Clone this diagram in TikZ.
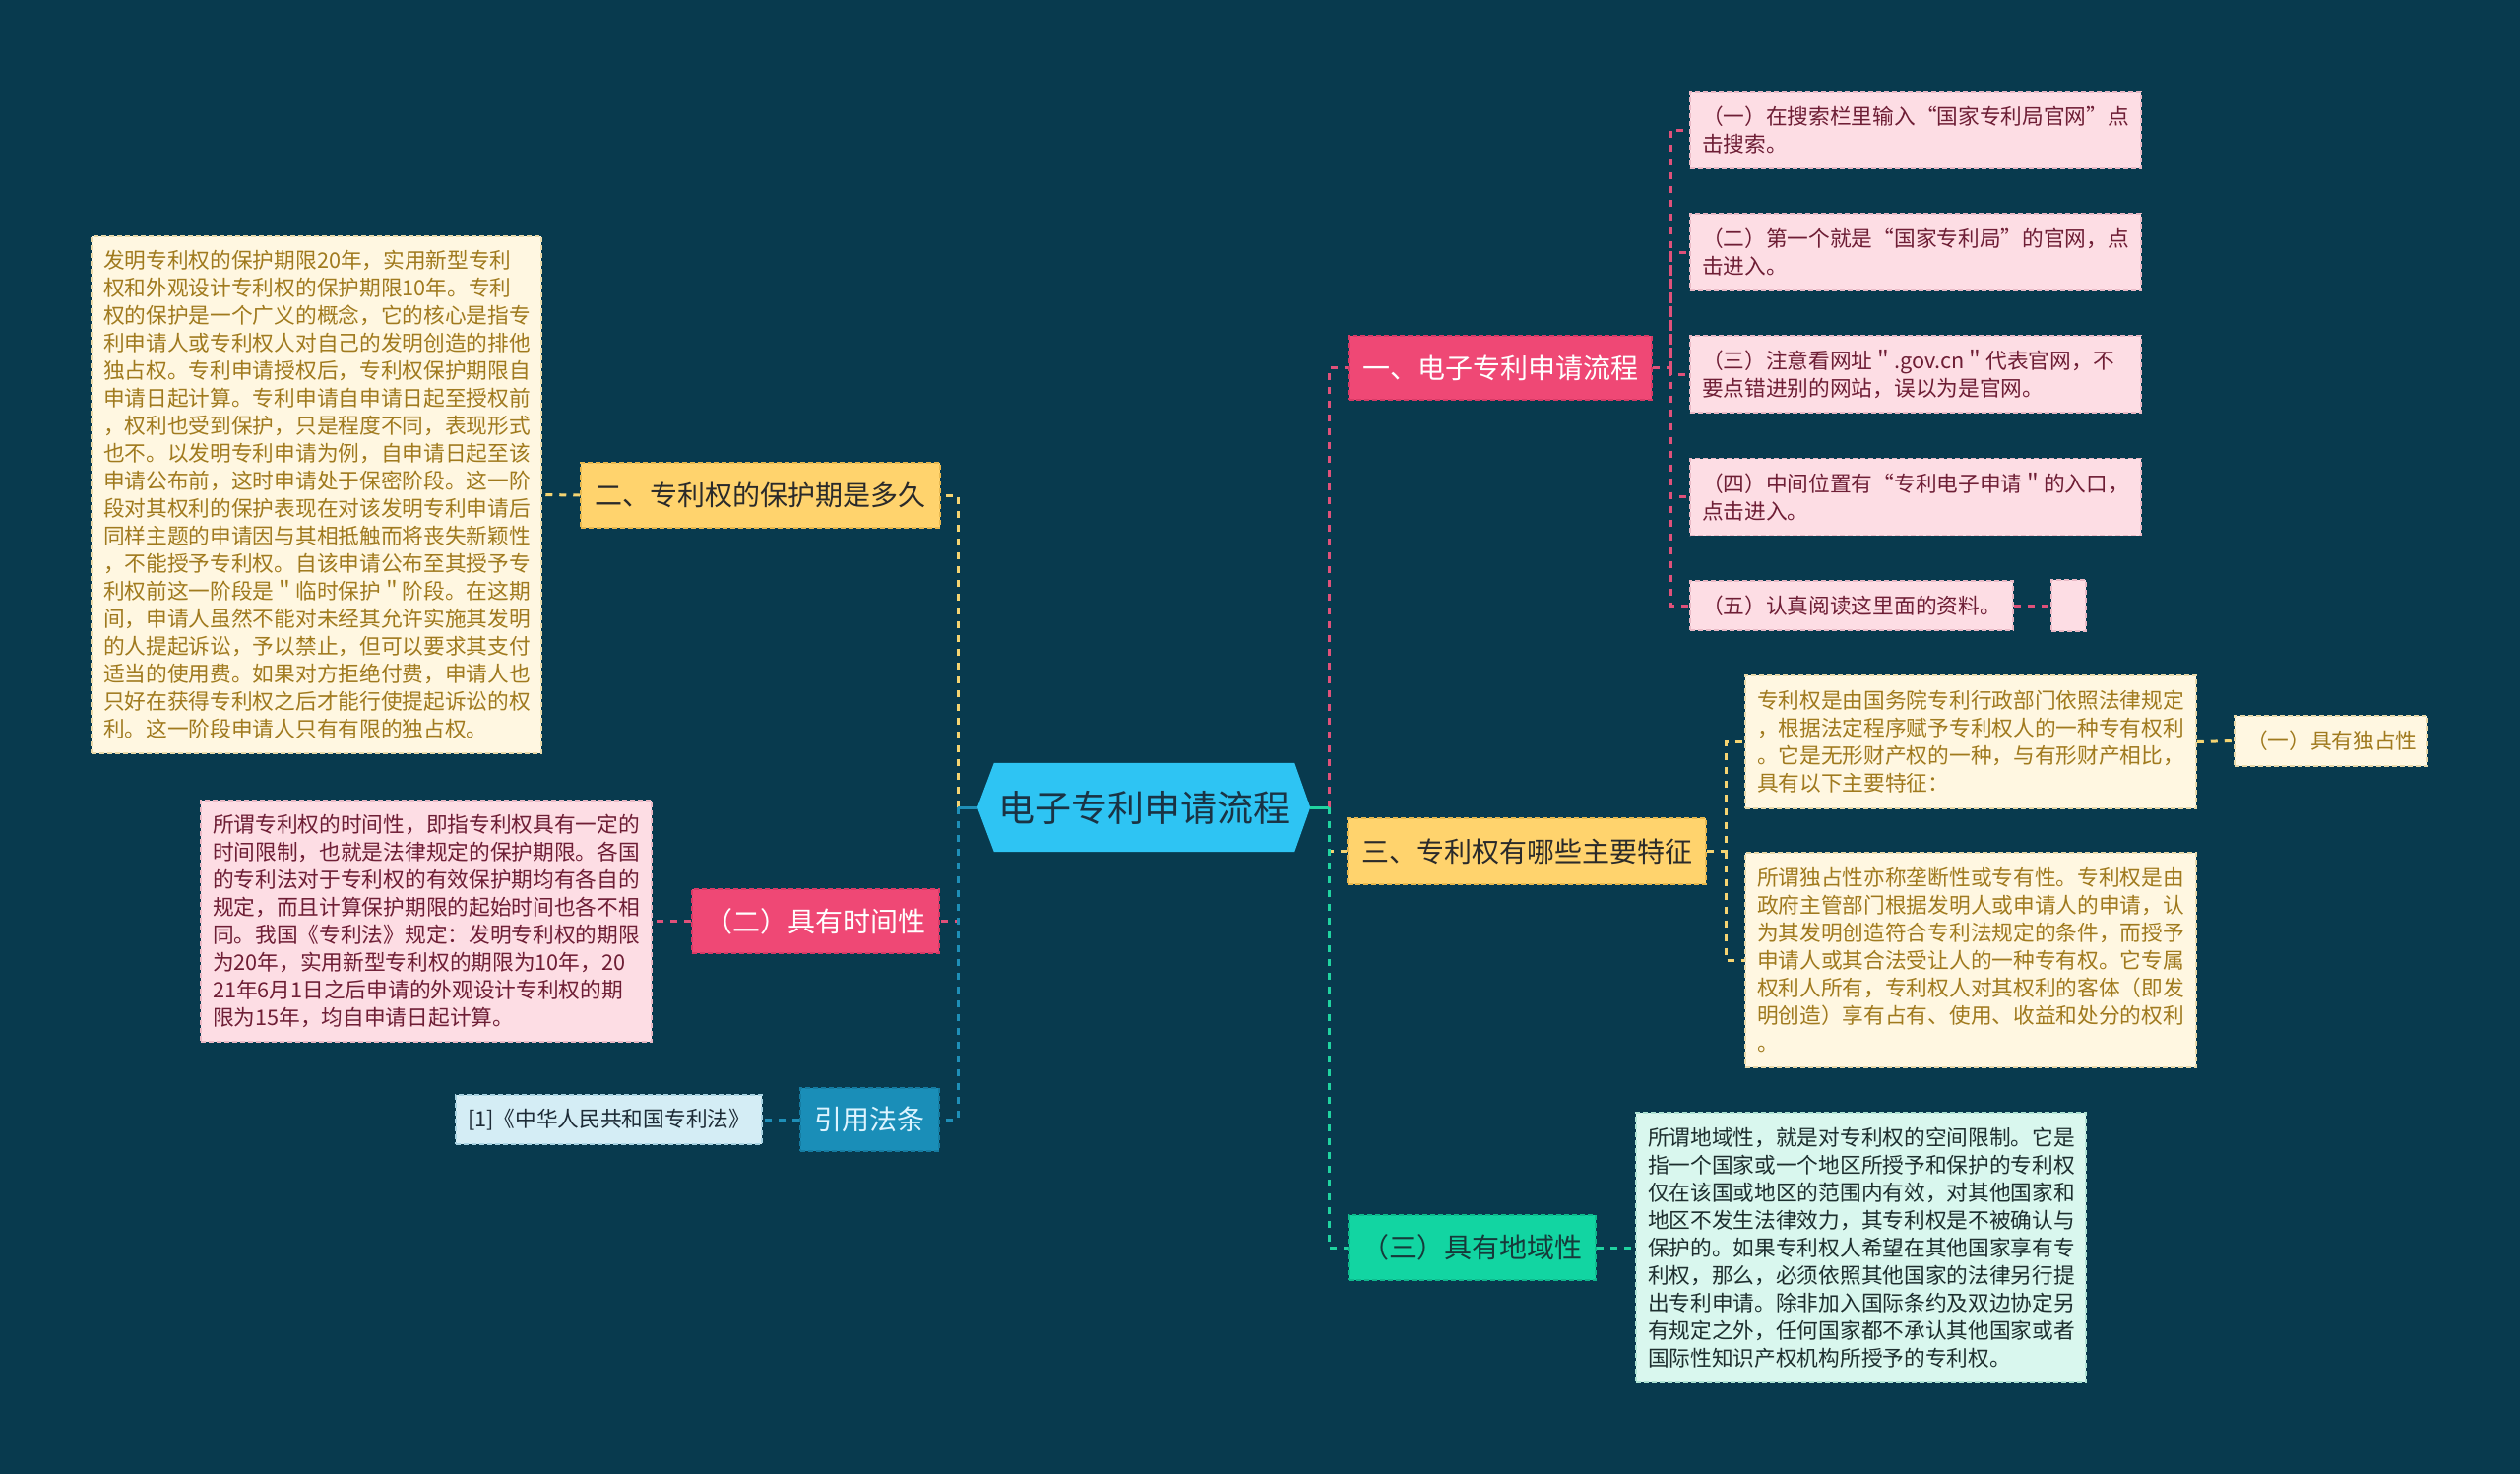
\documentclass[tikz,border=0pt]{standalone}
\usepackage{fontspec}
\setmainfont{Noto Sans CJK SC}
\usetikzlibrary{backgrounds}
\definecolor{bgc}{HTML}{083A4E}
\definecolor{rootfill}{HTML}{2EC4F3}
\definecolor{roottxt}{HTML}{1A3344}
\definecolor{pinkfill}{HTML}{EF4875}
\definecolor{pinkdraw}{HTML}{D93A66}
\definecolor{yelfill}{HTML}{FFD36D}
\definecolor{yeldraw}{HTML}{E8B84E}
\definecolor{bluefill}{HTML}{1A8EB8}
\definecolor{bluedraw}{HTML}{157CA2}
\definecolor{bluetxt}{HTML}{DDF4FF}
\definecolor{grnfill}{HTML}{12D5A2}
\definecolor{grndraw}{HTML}{0EBB8D}
\definecolor{grntxt}{HTML}{163A3A}
\definecolor{darktxt}{HTML}{2A2A2A}
\definecolor{creamfill}{HTML}{FFF7E1}
\definecolor{creamdraw}{HTML}{E9D9A9}
\definecolor{creamtxt}{HTML}{A07A1E}
\definecolor{lpinkfill}{HTML}{FDDDE4}
\definecolor{lpinkdraw}{HTML}{EAB9C5}
\definecolor{lpinktxt}{HTML}{6E1E35}
\definecolor{mintfill}{HTML}{D9F7EE}
\definecolor{mintdraw}{HTML}{AEE3D3}
\definecolor{minttxt}{HTML}{1D2E2E}
\definecolor{lbluefill}{HTML}{D4EDF5}
\definecolor{lbluedraw}{HTML}{A9D3E2}
\definecolor{lbluetxt}{HTML}{1D2B36}
\definecolor{cpink}{HTML}{E0517A}
\definecolor{cyellow}{HTML}{F5D472}
\definecolor{cblue}{HTML}{1E8FB8}
\definecolor{cgreen}{HTML}{20D3A0}
\tikzset{
  conn/.style={line width=3pt, dash pattern=on 7pt off 7pt},
  stub/.style={line width=3pt},
  branchbox/.style={inner sep=0pt, line width=1.5pt, dash pattern=on 5pt off 3pt,
    font=\fontsize{28}{30}\selectfont},
  leafbox/.style={inner xsep=12pt, inner ysep=0pt, line width=1.5pt, dash pattern=on 5pt off 3pt,
    align=left, font=\fontsize{21.7}{28}\selectfont},
  pinkbranch/.style={branchbox, fill=pinkfill, draw=pinkdraw, text=white},
  yelbranch/.style={branchbox, fill=yelfill, draw=yeldraw, text=darktxt},
  bluebranch/.style={branchbox, fill=bluefill, draw=bluedraw, text=bluetxt},
  grnbranch/.style={branchbox, fill=grnfill, draw=grndraw, text=grntxt},
  creamleaf/.style={leafbox, fill=creamfill, draw=creamdraw, text=creamtxt},
  pinkleaf/.style={leafbox, fill=lpinkfill, draw=lpinkdraw, text=lpinktxt},
  mintleaf/.style={leafbox, fill=mintfill, draw=mintdraw, text=minttxt},
  blueleaf/.style={leafbox, fill=lbluefill, draw=lbluedraw, text=lbluetxt},
}
\begin{document}
\begin{tikzpicture}[x=1pt,y=-1pt]
\begin{scope}[on background layer]
\fill[bgc] (0,0) rectangle (2560,1497);
\end{scope}
\useasboundingbox (0,0) rectangle (2560,1497);

% root
\node[inner sep=0pt, minimum width=338pt, minimum height=90pt, text=roottxt,
  font=\fontsize{37}{40}\selectfont] (root) at (1162,820) {电子专利申请流程};
\begin{scope}[on background layer]
\fill[rootfill] (root.west) -- ([xshift=17pt]root.north west) -- ([xshift=-16pt]root.north east)
  -- (root.east) -- ([xshift=-16pt]root.south east) -- ([xshift=17pt]root.south west) -- cycle;
\end{scope}

% left branches
\node[yelbranch, minimum width=365pt, minimum height=66pt] (L1) at (772.5,503) {二、专利权的保护期是多久};
\node[pinkbranch, minimum width=251pt, minimum height=65pt] (L2) at (828.5,935.5) {（二）具有时间性};
\node[bluebranch, minimum width=141pt, minimum height=64pt] (L3) at (883.5,1137) {引用法条};

\node[creamleaf, minimum width=457pt, text width=433pt, minimum height=525pt] (L1leaf) at (321.5,502.5) {%
发明专利权的保护期限20年，实用新型专利\\
权和外观设计专利权的保护期限10年。专利\\
权的保护是一个广义的概念，它的核心是指专\\
利申请人或专利权人对自己的发明创造的排他\\
独占权。专利申请授权后，专利权保护期限自\\
申请日起计算。专利申请自申请日起至授权前\\
，权利也受到保护，只是程度不同，表现形式\\
也不。以发明专利申请为例，自申请日起至该\\
申请公布前，这时申请处于保密阶段。这一阶\\
段对其权利的保护表现在对该发明专利申请后\\
同样主题的申请因与其相抵触而将丧失新颖性\\
，不能授予专利权。自该申请公布至其授予专\\
利权前这一阶段是＂临时保护＂阶段。在这期\\
间，申请人虽然不能对未经其允许实施其发明\\
的人提起诉讼，予以禁止，但可以要求其支付\\
适当的使用费。如果对方拒绝付费，申请人也\\
只好在获得专利权之后才能行使提起诉讼的权\\
利。这一阶段申请人只有有限的独占权。};

\node[pinkleaf, minimum width=458pt, text width=434pt, minimum height=245pt] (L2leaf) at (433,935.5) {%
所谓专利权的时间性，即指专利权具有一定的\\
时间限制，也就是法律规定的保护期限。各国\\
的专利法对于专利权的有效保护期均有各自的\\
规定，而且计算保护期限的起始时间也各不相\\
同。我国《专利法》规定：发明专利权的期限\\
为20年，实用新型专利权的期限为10年，20\\
21年6月1日之后申请的外观设计专利权的期\\
限为15年，均自申请日起计算。};

\node[blueleaf, minimum width=311pt, text width=287pt, minimum height=50pt] (L3leaf) at (618.5,1137) {[1]《中华人民共和国专利法》};

% right branches
\node[pinkbranch, minimum width=308pt, minimum height=65pt] (R1) at (1524,373.5) {一、电子专利申请流程};
\node[yelbranch, minimum width=364pt, minimum height=67pt] (R2) at (1551,864.5) {三、专利权有哪些主要特征};
\node[grnbranch, minimum width=251pt, minimum height=66pt] (R3) at (1495.5,1267) {（三）具有地域性};

\node[pinkleaf, minimum width=458pt, text width=434pt, minimum height=78pt] (c1) at (1946,132) {%
（一）在搜索栏里输入“国家专利局官网”点\\击搜索。};
\node[pinkleaf, minimum width=458pt, text width=434pt, minimum height=78pt] (c2) at (1946,256) {%
（二）第一个就是“国家专利局”的官网，点\\击进入。};
\node[pinkleaf, minimum width=458pt, text width=434pt, minimum height=78pt] (c3) at (1946,380) {%
（三）注意看网址＂.gov.cn＂代表官网，不\\要点错进别的网站，误以为是官网。};
\node[pinkleaf, minimum width=458pt, text width=434pt, minimum height=78pt] (c4) at (1946,504.5) {%
（四）中间位置有“专利电子申请＂的入口，\\点击进入。};
\node[pinkleaf, minimum width=328pt, text width=304pt, minimum height=50pt] (c5) at (1881,615) {（五）认真阅读这里面的资料。};
\node[pinkleaf, minimum width=35pt, inner xsep=0pt, minimum height=52pt] (c5x) at (2101.5,615) {};

\node[creamleaf, minimum width=458pt, text width=434pt, minimum height=135pt] (A) at (2002,753.5) {%
专利权是由国务院专利行政部门依照法律规定\\
，根据法定程序赋予专利权人的一种专有权利\\
。它是无形财产权的一种，与有形财产相比，\\
具有以下主要特征：};
\node[creamleaf, minimum width=196pt, text width=172pt, minimum height=51pt] (Aleaf) at (2368,752.5) {（一）具有独占性};
\node[creamleaf, minimum width=458pt, text width=434pt, minimum height=218pt] (B) at (2002,975) {%
所谓独占性亦称垄断性或专有性。专利权是由\\
政府主管部门根据发明人或申请人的申请，认\\
为其发明创造符合专利法规定的条件，而授予\\
申请人或其合法受让人的一种专有权。它专属\\
权利人所有，专利权人对其权利的客体（即发\\
明创造）享有占有、使用、收益和处分的权利\\
。};

\node[mintleaf, minimum width=457pt, text width=433pt, minimum height=274pt] (R3leaf) at (1890.5,1267) {%
所谓地域性，就是对专利权的空间限制。它是\\
指一个国家或一个地区所授予和保护的专利权\\
仅在该国或地区的范围内有效，对其他国家和\\
地区不发生法律效力，其专利权是不被确认与\\
保护的。如果专利权人希望在其他国家享有专\\
利权，那么，必须依照其他国家的法律另行提\\
出专利申请。除非加入国际条约及双边协定另\\
有规定之外，任何国家都不承认其他国家或者\\
国际性知识产权机构所授予的专利权。};

% connectors: main trunks
\coordinate (lj) at (973,820);
\coordinate (rj) at (1350,820);
\draw[conn, cyellow] (lj) |- (L1.east);
\draw[conn, cpink] (lj) |- (L2.east);
\draw[conn, cblue] (lj) |- (L3.east);
\draw[stub, cblue] (root.west) -- (lj);
\draw[conn, cpink] (rj) |- (R1.west);
\draw[conn, cyellow] (rj) |- (R2.west);
\draw[conn, cgreen] (rj) |- (R3.west);
\draw[stub, cgreen] (root.east) -- (rj);

% left leaves
\draw[conn, cyellow] (L1.west) -- (L1leaf.east);
\draw[conn, cpink] (L2.west) -- (L2leaf.east);
\draw[conn, cblue] (L3.west) -- (L3leaf.east);

% right sub trunks
\coordinate (r1j) at (1697,373.5);
\draw[conn, cpink] (R1.east) -- (r1j) |- (c1.west);
\draw[conn, cpink] (r1j) |- (c2.west);
\draw[conn, cpink] (r1j) |- (c3.west);
\draw[conn, cpink] (r1j) |- (c4.west);
\draw[conn, cpink] (r1j) |- (c5.west);
\draw[conn, cpink] (c5.east) -- (c5x.west);

\coordinate (r2j) at (1753,864.5);
\draw[conn, cyellow] (R2.east) -- (r2j) |- (A.west);
\draw[conn, cyellow] (r2j) |- (B.west);
\draw[conn, cyellow] (A.east) -- (Aleaf.west);

\draw[conn, cgreen] (R3.east) -- (R3leaf.west);
\end{tikzpicture}
\end{document}
